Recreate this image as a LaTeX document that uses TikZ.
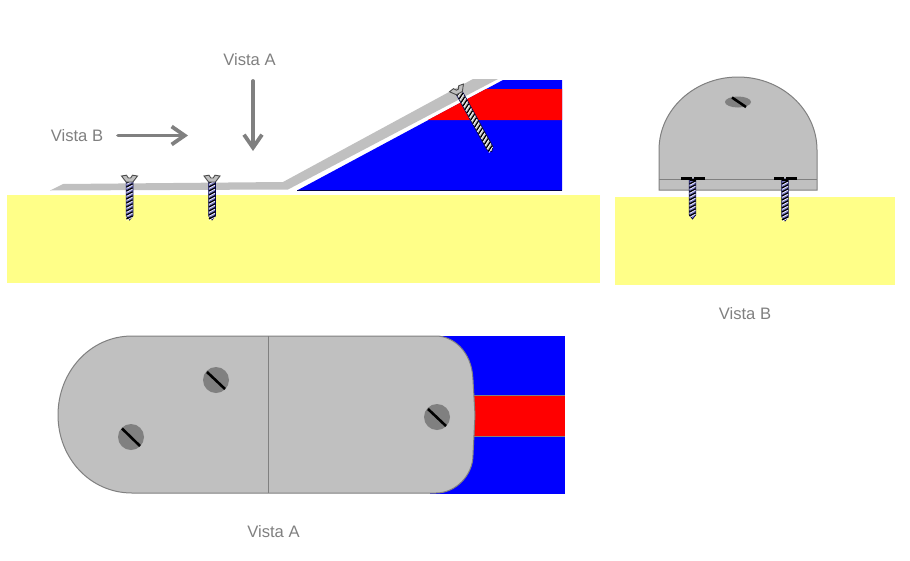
\documentclass[tikz,border=0pt]{standalone}
\usepackage{fontspec}
\setmainfont{Liberation Sans}
\usetikzlibrary{arrows.meta}
\definecolor{plate}{HTML}{C0C0C0}
\definecolor{edge}{HTML}{808080}
\definecolor{wood}{HTML}{FFFF88}
\definecolor{pblue}{HTML}{0000FF}
\definecolor{pred}{HTML}{FF0000}
\definecolor{shankblue}{HTML}{7C7CC8}
\tikzset{
  label text/.style={text=edge,font=\fontsize{16.6}{18}\selectfont,inner sep=0pt},
  view arrow/.style={draw=edge,line width=3.8pt,line cap=round,line join=round,-{Straight Barb[length=13pt,width=18pt,line width=3.8pt]}},
  plate shape/.style={fill=plate,draw=edge,line width=1pt},
  hole/.style={fill=edge},
  slot/.style={draw=black,line width=2.6pt},
}
% x, y, angle, length, body colour
\newcommand\myscrew[5]{%
  \begin{scope}[shift={(#1,#2)},rotate=#3]
    \fill[#5,draw=black!70!blue,line width=.7pt] (-3.4,6) -- (3.4,6) -- (3.4,#4-4) -- (0,#4) -- (-3.4,#4-4) -- cycle;
    \foreach \k in {8,12,...,#4} {
      \draw[black,line width=1.3pt] (-3,\k) -- (3,\k-3.2);
      \draw[white,line width=.6pt] (-3,\k+1.4) -- (3,\k-1.8);
    }
    \fill[plate,draw=black!70,line width=.9pt] (-8,1) -- (-3,.2) -- (-1.2,3) -- (1.2,3) -- (3,.2) -- (8,1) -- (3.4,7) -- (-3.4,7) -- cycle;
  \end{scope}}
% x, length: screw seen in view B
\newcommand\myscrewb[2]{%
  \begin{scope}[shift={(#1,178)}]
    \fill[shankblue,draw=black!70!blue,line width=.7pt] (-3.2,1) -- (3.2,1) -- (3.2,#2-4) -- (0,#2) -- (-3.2,#2-4) -- cycle;
    \foreach \k in {6,10,...,#2} {
      \draw[black,line width=1.3pt] (-3,\k) -- (3,\k-3.2);
      \draw[white,line width=.6pt] (-3,\k+1.4) -- (3,\k-1.8);
    }
    \fill[black] (-11.5,-1.5) rectangle (-1,1.5);
    \fill[black] (1,-1.5) rectangle (12,1.5);
    \fill[black] (-3,1) rectangle (3,2.5);
  \end{scope}}
\begin{document}
\begin{tikzpicture}[x=1pt,y=-1pt]
\useasboundingbox (0,0) rectangle (910,560);
% wood
\fill[wood] (7,195) rectangle (600,283);
\fill[wood] (615,197) rectangle (895,285);
% side view wedge
\fill[pblue] (297,190.5) -- (503,80) -- (562,80) -- (562,190.5) -- cycle;
\fill[pred] (428,120) -- (486,89) -- (562,89) -- (562,120) -- cycle;
\draw[black!70!blue,line width=.6pt] (297,190.5) -- (562,190.5);
% side view plate
\fill[plate] (50,190.5) -- (63,184) -- (283,182) -- (473,79) -- (498,79) -- (288,189.5) -- cycle;
\myscrew{129.5}{175}{0}{45}{shankblue}
\myscrew{212}{175}{0}{45}{shankblue}
\myscrew{456}{87}{29}{74}{plate}
% labels and arrows
\node[label text] (va) at (249.5,59.7) {Vista A};
\node[label text] (vb) at (77,135.7) {Vista B};
\node[label text] (vbc) at (745,313.7) {Vista B};
\node[label text] (vac) at (273.5,531.7) {Vista A};
\coordinate (a1) at (253,81);
\coordinate (a2) at (253,151);
\coordinate (b1) at (118,135.5);
\coordinate (b2) at (188,135.5);
\draw[view arrow] (a1) -- (a2);
\draw[view arrow] (b1) -- (b2);
% view B
\draw[plate shape] (659,190) -- (659,150) arc[start angle=180,end angle=360,x radius=79,y radius=73] -- (817,190) -- cycle;
\draw[edge,line width=.8pt] (659,179) -- (817,179);
\fill[hole] (738,102) ellipse[x radius=13,y radius=5.5];
\draw[slot] (732,97.5) -- (746,107);
\myscrewb{692.5}{41}
\myscrewb{785}{43}
% view A
\fill[pblue] (430,336) rectangle (565,493.5);
\fill[pred] (470,395) rectangle (565,436);
\draw[edge,line width=.6pt] (470,395) -- (565,395) (470,436) -- (565,436);
\draw[plate shape] (132,336) -- (436,336)
  .. controls (452,336) and (472,350) .. (473,380)
  -- (475,415) -- (473,455)
  .. controls (473,475) and (456,493) .. (436,493)
  -- (132,493)
  .. controls (90,493) and (58,458) .. (58,415)
  .. controls (58,372) and (90,336) .. (132,336) -- cycle;
\draw[edge,line width=.8pt] (268,336) -- (268,493);
\fill[hole] (216,380) circle[radius=13];
\fill[hole] (131,437) circle[radius=13];
\fill[hole] (437,417) circle[radius=13];
\draw[slot] (207,372) -- (225,389);
\draw[slot] (122,428.5) -- (140,446);
\draw[slot] (428,409) -- (446,426);
\end{tikzpicture}
\end{document}
